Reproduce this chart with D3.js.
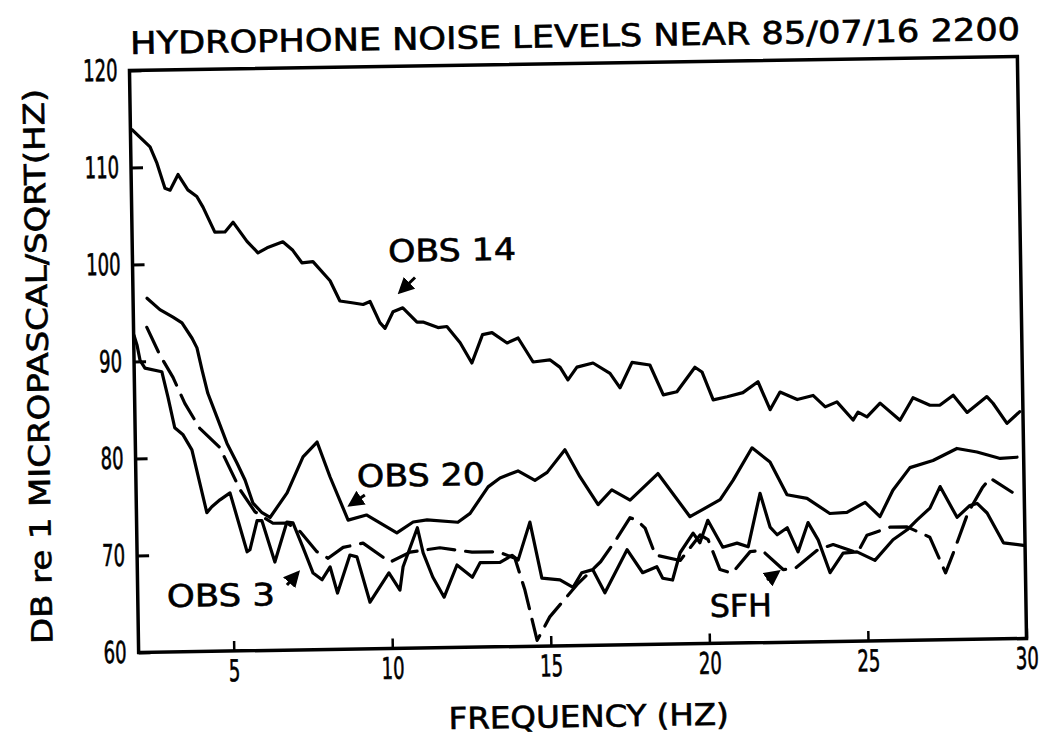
<!DOCTYPE html>
<html>
<head>
<meta charset="utf-8">
<script src="https://cdn.jsdelivr.net/npm/d3@7"></script>
<style>
  body { margin: 0; background: #fff; }
  text { font-family: "Liberation Sans Narrow", "DejaVu Sans Condensed", "Arial Narrow", "Liberation Sans", sans-serif; fill: #000; stroke: #000; stroke-width: 0.6; }
</style>
</head>
<body>
<svg id="chart" width="1052" height="749"></svg>
<script>
// Spectra: frequency (Hz) and level (dB re 1 uPa/sqrt(Hz))
const obs14Freq = [2.05, 2.39, 2.61, 2.82, 3.06, 3.22, 3.48, 3.78, 4.06, 4.25, 4.61, 4.93, 5.19, 5.62, 5.96, 6.25, 6.75, 7.06, 7.34, 7.69,
	8.22, 8.52, 8.90, 9.25, 9.47, 9.77, 9.93, 10.19, 10.50, 10.94, 11.13, 11.60, 11.88, 12.29, 12.65, 13.00, 13.30, 13.77, 14.12, 14.58,
	15.11, 15.43, 15.67, 15.96, 16.47, 17.00, 17.31, 17.70, 18.26, 18.67, 19.10, 19.68, 19.90, 20.24, 20.68, 21.18, 21.66, 22.03, 22.35, 22.89,
	23.39, 23.77, 24.14, 24.64, 24.80, 25.08, 25.50, 26.12, 26.54, 27.07, 27.39, 27.81, 28.24, 28.87, 29.06, 29.49, 29.90];
const obs14Db = [113.9, 112.8, 112.1, 110.4, 107.8, 107.6, 109.2, 107.6, 106.9, 105.8, 103.2, 103.2, 104.2, 102.2, 101.0, 101.5, 102.1, 101.2, 99.9, 100.0,
	98.0, 95.9, 95.7, 95.5, 95.8, 93.6, 93.0, 94.7, 95.1, 93.6, 93.6, 93.0, 93.1, 91.4, 89.3, 92.2, 92.4, 91.3, 91.8, 89.3,
	89.5, 88.7, 87.4, 88.7, 89.1, 88.0, 86.5, 89.1, 88.8, 85.7, 86.0, 88.5, 88.0, 85.1, 85.4, 85.8, 86.9, 84.0, 85.8, 85.0,
	85.4, 84.2, 84.7, 82.8, 83.6, 83.1, 84.5, 82.7, 85.0, 84.2, 84.2, 85.2, 83.4, 85.0, 84.3, 82.2, 83.4];

const obs20Freq = [2.44, 2.84, 3.25, 3.53, 3.84, 3.99, 4.14, 4.31, 4.59, 4.89, 5.19, 5.44, 5.68, 5.96, 6.21, 6.76, 7.28, 7.73, 8.12, 8.67,
	9.25, 10.20, 10.72, 11.16, 12.13, 12.52, 13.10, 13.48, 14.05, 14.58, 14.97, 15.54, 16.00, 16.56, 17.00, 17.57, 18.46, 19.45, 20.41, 20.83,
	21.44, 22.00, 22.52, 23.15, 23.86, 24.40, 24.98, 25.44, 25.86, 26.41, 27.14, 27.90, 28.53, 29.26, 29.79];
const obs20Db = [96.5, 95.3, 94.5, 93.9, 92.3, 91.3, 89.0, 86.6, 84.1, 81.4, 79.4, 77.6, 75.2, 74.2, 73.7, 76.2, 79.9, 81.4, 77.8, 73.3,
	73.8, 71.9, 73.0, 73.2, 72.9, 73.8, 76.5, 77.4, 78.1, 77.1, 77.9, 80.2, 77.4, 74.5, 76.0, 74.9, 77.6, 73.1, 74.8, 76.8,
	80.1, 78.6, 75.2, 74.8, 73.2, 73.3, 74.3, 72.8, 75.5, 77.8, 78.5, 79.7, 79.3, 78.6, 78.7];

const obs3Freq = [2.01, 2.10, 2.19, 2.34, 2.87, 3.05, 3.25, 3.50, 3.78, 4.22, 4.38, 4.64, 4.96, 5.47, 5.56, 5.80, 5.95, 6.34, 6.74, 6.93,
	7.23, 7.54, 7.82, 8.08, 8.30, 8.71, 8.93, 9.32, 9.93, 10.27, 10.38, 10.85, 11.02, 11.31, 11.66, 12.08, 12.56, 12.81, 13.44, 13.82,
	14.01, 14.40, 14.75, 15.32, 15.73, 16.01, 16.36, 16.73, 17.45, 17.93, 18.38, 18.56, 18.87, 19.12, 19.54, 19.75, 20.01, 20.47, 20.92, 21.27,
	21.67, 21.97, 22.19, 22.51, 22.84, 23.17, 23.48, 23.84, 24.26, 24.70, 25.26, 25.84, 26.29, 26.61, 27.02, 27.35, 27.87, 28.28, 28.51, 28.82,
	29.32, 29.95];
const obs3Db = [92.7, 91.7, 90.1, 89.3, 88.9, 86.3, 83.1, 82.4, 80.8, 74.3, 74.9, 75.6, 76.3, 70.2, 70.4, 73.4, 73.4, 69.1, 73.2, 73.1,
	70.6, 67.9, 67.2, 68.5, 65.8, 69.7, 69.5, 64.8, 67.8, 66.0, 68.4, 72.4, 69.8, 67.3, 65.2, 68.5, 67.2, 68.7, 68.7, 69.4,
	68.9, 72.8, 67.0, 66.8, 66.0, 67.5, 67.8, 65.4, 69.8, 67.4, 68.0, 66.8, 66.6, 69.4, 71.4, 70.4, 72.7, 69.9, 70.3, 69.9,
	75.4, 71.9, 71.1, 71.8, 69.3, 72.3, 70.5, 67.1, 69.1, 69.2, 68.3, 70.4, 71.4, 72.4, 73.6, 75.8, 72.6, 73.8, 74.0, 73.0,
	69.9, 69.6];

const sfhFreq = [2.42, 2.82, 3.22, 3.58, 4.04, 4.66, 5.28, 5.74, 6.30, 6.74, 7.15, 7.67, 8.02, 8.50, 9.13, 9.97, 10.61, 11.55, 12.56, 13.38,
	13.91, 14.21, 14.57, 14.98, 15.86, 16.61, 17.14, 17.56, 17.78, 18.03, 18.34, 19.12, 19.76, 20.01, 20.37, 20.75, 21.33, 21.71, 22.36, 22.74,
	23.47, 23.95, 24.71, 25.02, 25.76, 26.29, 27.00, 27.48, 27.73, 28.21, 28.68, 28.93, 29.62];
const sfhDb = [93.5, 90.6, 88.3, 85.6, 83.0, 81.0, 76.6, 74.3, 73.1, 73.1, 72.2, 70.1, 69.4, 70.5, 70.9, 68.9, 69.9, 70.3, 69.8, 69.8,
	69.1, 65.8, 60.6, 63.0, 66.3, 68.6, 71.0, 73.1, 72.8, 72.0, 69.2, 68.6, 71.2, 70.7, 67.6, 67.2, 69.4, 69.5, 67.5, 67.6,
	69.5, 70.0, 69.1, 70.9, 71.7, 71.7, 70.6, 66.9, 68.9, 73.0, 75.6, 76.6, 75.1];

// Axis ticks
const xTicks = [5, 10, 15, 20, 25, 30];
const yTicks = [60, 70, 80, 90, 100, 110, 120];

// Curve labels and their arrows (anchored in data units)
const labelNames = ["OBS 14", "OBS 20", "OBS 3", "SFH"];
const labelFreq = [10.06, 8.97, 2.92, 20.03];
const labelDb = [99.85, 76.7, 64.64, 62.72];
const arrowFromFreq = [10.90, 9.21, 6.71, 21.85];
const arrowFromDb = [98.2, 75.86, 66.7, 66.44];
const arrowToFreq = [10.42, 8.74, 7.06, 22.20];
const arrowToDb = [96.73, 74.86, 67.95, 67.26];

const series = [
	{ freq: obs14Freq, db: obs14Db, dash: null },
	{ freq: obs20Freq, db: obs20Db, dash: null },
	{ freq: obs3Freq, db: obs3Db, dash: null },
	{ freq: sfhFreq, db: sfhDb, dash: "27 11" },
];

const width = 888;
const height = 582;
const margin = { left: 134, top: 63.5 };
const digitWidth = 11.5; // the original lettering is tall and narrow

const svg = d3.select("#chart");

// the scanned figure sits slightly tilted
const page = svg.append("g").attr("transform", "rotate(-0.9, 578, 354.5)");

svg.append("defs")
	.append("marker")
	.attr("id", "head")
	.attr("viewBox", "0 0 10 10")
	.attr("refX", 8)
	.attr("refY", 5)
	.attr("markerWidth", 5.5)
	.attr("markerHeight", 5.5)
	.attr("orient", "auto")
	.append("path")
	.attr("d", "M0,0L10,5L0,10z")
	.attr("fill", "#000");

const x = d3.scaleLinear().domain([2, 30]).range([0, width]);
const y = d3.scaleLinear().domain([60, 120]).range([height, 0]);

const plot = page.append("g").attr("transform", `translate(${margin.left}, ${margin.top})`);

// Title
page.append("text")
	.attr("x", 135)
	.attr("y", 47)
	.attr("font-size", 31)
	.attr("textLength", 890)
	.attr("lengthAdjust", "spacingAndGlyphs")
	.text("HYDROPHONE NOISE LEVELS NEAR 85/07/16 2200");

// Y axis
const yAxis = plot.append("g")
	.call(d3.axisLeft(y).tickValues(yTicks).tickSizeInner(-12).tickSizeOuter(0).tickPadding(12));
yAxis.select(".domain").remove();
yAxis.selectAll("line").attr("stroke", "#000").attr("stroke-width", 3);
yAxis.selectAll("text")
	.attr("font-size", 30)
	.attr("font-family", null)
	.attr("textLength", (d) => String(d).length * digitWidth)
	.attr("lengthAdjust", "spacingAndGlyphs");

// X axis
const xAxis = plot.append("g")
	.attr("transform", `translate(0, ${height})`)
	.call(d3.axisBottom(x).tickValues(xTicks).tickSizeInner(-10).tickSizeOuter(0).tickPadding(9));
xAxis.select(".domain").remove();
xAxis.selectAll("line").attr("stroke", "#000").attr("stroke-width", 2.5);
xAxis.selectAll("text")
	.attr("font-size", 30)
	.attr("font-family", null)
	.attr("textLength", (d) => String(d).length * digitWidth)
	.attr("lengthAdjust", "spacingAndGlyphs");

// Frame
plot.append("rect")
	.attr("width", width)
	.attr("height", height)
	.attr("fill", "none")
	.attr("stroke", "#000")
	.attr("stroke-width", 3.5);

// Axis titles
page.append("text")
	.attr("transform", "translate(48, 358) rotate(-90)")
	.attr("text-anchor", "middle")
	.attr("font-size", 29)
	.attr("textLength", 555)
	.attr("lengthAdjust", "spacingAndGlyphs")
	.text("DB re 1 MICROPASCAL/SQRT(HZ)");

page.append("text")
	.attr("x", 443)
	.attr("y", 727)
	.attr("font-size", 30)
	.attr("textLength", 280)
	.attr("lengthAdjust", "spacingAndGlyphs")
	.text("FREQUENCY (HZ)");

// Curves
const line = d3.line()
	.x((d) => x(d[0]))
	.y((d) => y(d[1]));

plot.selectAll(".curve")
	.data(series)
	.enter()
	.append("path")
	.attr("class", "curve")
	.attr("d", (s) => line(s.freq.map((f, i) => [f, s.db[i]])))
	.attr("fill", "none")
	.attr("stroke", "#000")
	.attr("stroke-width", 3.2)
	.attr("stroke-linejoin", "round")
	.attr("stroke-linecap", "round")
	.attr("stroke-dasharray", (s) => s.dash);

// Labels
const labelLen = [128, 128, 108, 62];
plot.selectAll(".label")
	.data(labelNames)
	.enter()
	.append("text")
	.attr("class", "label")
	.attr("x", (d, i) => x(labelFreq[i]))
	.attr("y", (d, i) => y(labelDb[i]))
	.attr("font-size", 31)
	.attr("textLength", (d, i) => labelLen[i])
	.attr("lengthAdjust", "spacingAndGlyphs")
	.text((d) => d);

// Arrows
plot.selectAll(".arrow")
	.data(labelNames)
	.enter()
	.append("line")
	.attr("class", "arrow")
	.attr("x1", (d, i) => x(arrowFromFreq[i]))
	.attr("y1", (d, i) => y(arrowFromDb[i]))
	.attr("x2", (d, i) => x(arrowToFreq[i]))
	.attr("y2", (d, i) => y(arrowToDb[i]))
	.attr("stroke", "#000")
	.attr("stroke-width", 3)
	.attr("marker-end", "url(#head)");
</script>
</body>
</html>
